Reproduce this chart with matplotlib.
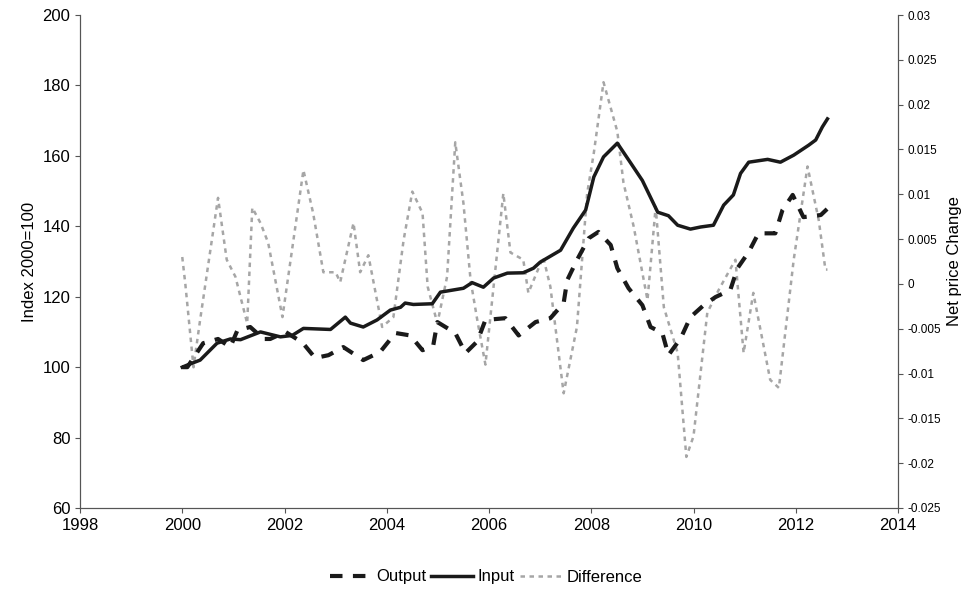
import matplotlib
matplotlib.use('Agg')
import matplotlib.pyplot as plt

plt.rcParams['font.family'] = ['Liberation Sans', 'DejaVu Sans']

# Input index (solid)
input_t = [2000.0, 2000.1, 2000.35, 2000.68, 2000.94, 2001.14, 2001.53, 2001.92, 2002.15, 2002.37,
           2002.9, 2003.19, 2003.29, 2003.54, 2003.81, 2004.07, 2004.27, 2004.36, 2004.52, 2004.89,
           2005.05, 2005.5, 2005.67, 2005.89, 2006.09, 2006.36, 2006.67, 2006.87, 2007.0, 2007.4,
           2007.65, 2007.89, 2008.05, 2008.24, 2008.51, 2008.77, 2009.0, 2009.3, 2009.51, 2009.69,
           2009.94, 2010.14, 2010.39, 2010.59, 2010.78, 2010.92, 2011.08, 2011.45, 2011.7, 2011.96,
           2012.25, 2012.39, 2012.52, 2012.62]
input_v = [100, 100.6, 102, 106.8, 108, 107.8, 110, 108.6, 109, 111,
           110.7, 114.2, 112.5, 111.4, 113.4, 116.2, 117, 118.2, 117.8, 118,
           121.3, 122.4, 124, 122.7, 125.3, 126.7, 126.8, 128.1, 129.8, 133.2,
           139.5, 144.6, 154, 159.7, 163.6, 158, 153, 144, 143, 140.3,
           139.2, 139.8, 140.3, 146, 148.9, 155, 158.2, 159, 158.2, 160.2,
           163, 164.5, 168.2, 170.5]

# Output index (dashed)
output_t = [2000.0, 2000.1, 2000.41, 2000.7, 2000.94, 2001.08, 2001.33, 2001.59, 2001.72, 2002.02,
            2002.35, 2002.6, 2002.86, 2003.15, 2003.54, 2003.87, 2004.17, 2004.46, 2004.7, 2004.91,
            2004.99, 2005.34, 2005.54, 2005.77, 2005.93, 2006.32, 2006.58, 2006.91, 2007.2, 2007.46,
            2007.53, 2007.72, 2007.95, 2008.14, 2008.38, 2008.51, 2008.73, 2009.0, 2009.16, 2009.39,
            2009.51, 2009.75, 2009.94, 2010.2, 2010.43, 2010.72, 2010.86, 2011.08, 2011.27, 2011.6,
            2011.74, 2011.94, 2012.15, 2012.49, 2012.62]
output_v = [100, 100, 106.8, 108, 105.7, 110.5, 111.4, 108, 108, 110,
            107, 102.6, 103.4, 105.7, 102, 104.3, 109.7, 109, 104.8, 106.2,
            112.8, 109.7, 104, 107.3, 113.4, 113.9, 109, 112.8, 113.9, 118.2,
            124.7, 130.4, 136.6, 138.4, 134.7, 128.1, 122.4, 117.6, 111.4, 109.7,
            103.4, 108.2, 114.2, 117.6, 119.9, 121.9, 128.1, 132.7, 138, 138,
            144.6, 148.9, 142.6, 143.2, 145]

# Net price change (right axis, dotted)
diff_t = [2000.0, 2000.06, 2000.22, 2000.35, 2000.7, 2000.87, 2001.04, 2001.27, 2001.37, 2001.53,
          2001.68, 2001.96, 2002.11, 2002.37, 2002.56, 2002.76, 2003.0, 2003.09, 2003.35, 2003.48,
          2003.64, 2003.91, 2004.13, 2004.33, 2004.5, 2004.7, 2004.8, 2004.99, 2005.18, 2005.34,
          2005.5, 2005.64, 2005.77, 2005.93, 2006.28, 2006.42, 2006.67, 2006.77, 2007.06, 2007.2,
          2007.46, 2007.72, 2007.92, 2008.05, 2008.24, 2008.51, 2008.63, 2008.83, 2009.1, 2009.26,
          2009.42, 2009.69, 2009.86, 2010.0, 2010.27, 2010.49, 2010.82, 2010.98, 2011.17, 2011.5,
          2011.67, 2011.96, 2012.23, 2012.45, 2012.58, 2012.62]
diff_v = [0.003, 0.0, -0.0093, -0.004, 0.0096, 0.0027, 0.0008, -0.0044, 0.0085, 0.0068,
          0.0046, -0.0037, 0.0023, 0.0127, 0.0079, 0.0013, 0.0013, 0.0002, 0.0068, 0.0013,
          0.0032, -0.0048, -0.0037, 0.0049, 0.0103, 0.0079, -0.0003, -0.0044, 0.0008, 0.0158,
          0.009, 0.0004, -0.004, -0.009, 0.0101, 0.0035, 0.0027, -0.001, 0.003, -0.0003,
          -0.0122, -0.0048, 0.0101, 0.0146, 0.0225, 0.017, 0.0113, 0.0064, -0.0018, 0.0086,
          -0.0026, -0.0077, -0.0193, -0.017, -0.0032, -0.0007, 0.0027, -0.0077, -0.001, -0.0107,
          -0.0116, 0.0027, 0.0131, 0.0071, 0.0016, 0.0016]

fig = plt.figure(figsize=(9.72, 5.9), dpi=100)
ax1 = fig.add_axes([80/972, 1-508/590, 818/972, 493/590])
ax2 = ax1.twinx()

l3, = ax2.plot(diff_t, diff_v, color='#a6a6a6', lw=1.8, linestyle=(0, (1.8, 1.8)), label='Difference')
l1, = ax1.plot(output_t, output_v, color='#1a1a1a', lw=3, linestyle=(0, (3, 2.5)), label='Output')
l2, = ax1.plot(input_t, input_v, color='#1a1a1a', lw=2.5, label='Input')
ax1.set_zorder(ax2.get_zorder() + 1)
ax1.patch.set_visible(False)

ax1.set_xlim(1998, 2014)
ax1.set_ylim(60, 200)
ax1.set_xticks(range(1998, 2015, 2))
ax1.set_yticks(range(60, 201, 20))
ax2.set_ylim(-0.025, 0.03)
ax2.set_yticks([0.03, 0.025, 0.02, 0.015, 0.01, 0.005, 0, -0.005, -0.01, -0.015, -0.02, -0.025])
ax2.set_yticklabels(['0.03', '0.025', '0.02', '0.015', '0.01', '0.005', '0', '-0.005', '-0.01',
                     '-0.015', '-0.02', '-0.025'], fontsize=8.5)

for ax in (ax1, ax2):
    ax.spines['top'].set_visible(False)
    for s in ax.spines.values():
        s.set_color('#555555')
ax1.tick_params(labelsize=12, color='#555555')
ax2.tick_params(color='#555555')
ax1.set_ylabel('Index 2000=100', fontsize=12)
ax2.set_ylabel('Net price Change', fontsize=12)

fig.legend([l1, l2, l3], ['Output', 'Input', 'Difference'], loc='center', bbox_to_anchor=(0.5, 1-577/590),
           ncol=3, frameon=False, fontsize=12, handlelength=2.5, columnspacing=0.3, handletextpad=0.3)

fig.savefig('out.png', dpi=100)
